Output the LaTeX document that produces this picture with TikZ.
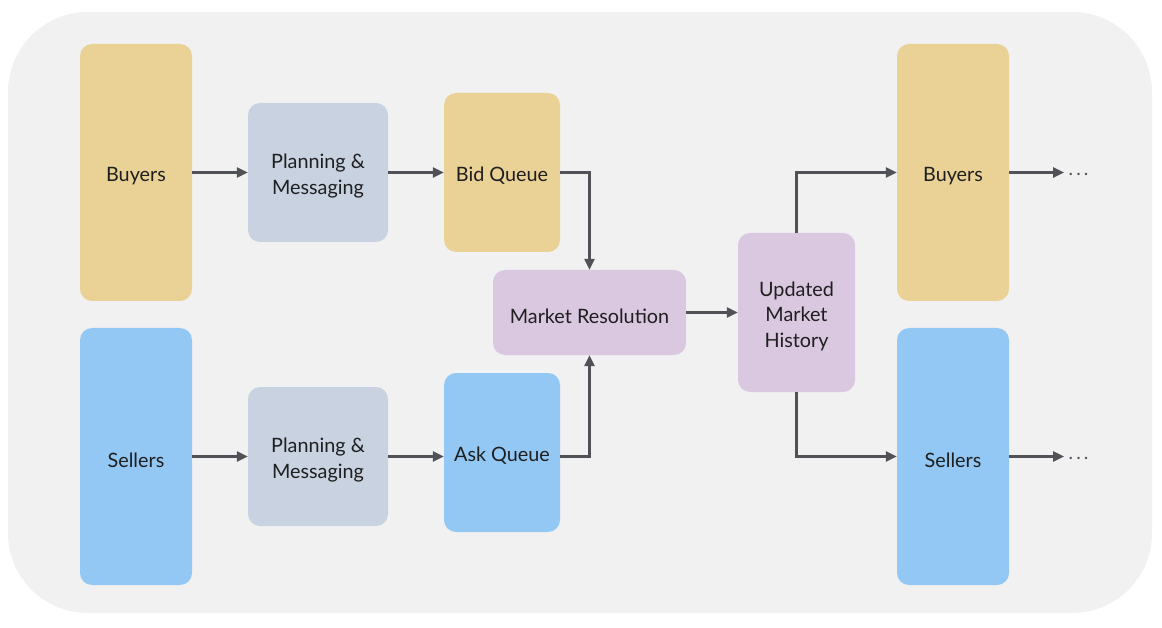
\documentclass[tikz,border=0pt]{standalone}
\usepackage{fontspec}
\setmainfont{Lato}
\usetikzlibrary{arrows.meta}
\definecolor{bgc}{HTML}{F1F1F1}
\definecolor{yel}{HTML}{EAD296}
\definecolor{blu}{HTML}{93C8F4}
\definecolor{gry}{HTML}{C8D2E0}
\definecolor{pur}{HTML}{D9C8E0}
\definecolor{arr}{HTML}{505257}
\tikzset{
  tstyle/.style={inner sep=0pt, align=center, font=\fontsize{19.8}{25.5}\selectfont, text=black!88, yshift=-3.5pt},
  box/.style={rounded corners=12pt, inner sep=0pt, label={[tstyle]center:#1}},
  conn/.style={draw=arr, line width=2.4pt, -{Triangle[length=11pt,width=10pt]}},
}
\begin{document}
\begin{tikzpicture}[x=1pt,y=-1pt]
\useasboundingbox (0,0) rectangle (1162,628);
\fill[bgc, rounded corners=80pt] (8,12) rectangle (1152,613);
% nodes
\node[box=Buyers, fill=yel, minimum width=112pt, minimum height=257pt] (b1) at (136,172.5) {};
\node[box=Sellers, fill=blu, minimum width=112pt, minimum height=257pt] (s1) at (136,456.5) {};
\node[box={Planning \&\\Messaging}, fill=gry, minimum width=140pt, minimum height=139pt] (p1) at (318,172.5) {};
\node[box={Planning \&\\Messaging}, fill=gry, minimum width=140pt, minimum height=139pt] (p2) at (318,456.5) {};
\node[box={Bid Queue}, fill=yel, minimum width=116pt, minimum height=159pt] (bq) at (502,172.5) {};
\node[box={Ask Queue}, fill=blu, minimum width=116pt, minimum height=159pt] (aq) at (502,452.5) {};
\node[box={Market Resolution}, fill=pur, minimum width=193pt, minimum height=85pt] (mr) at (589.5,312.5) {};
\node[box={Updated\\Market\\History}, fill=pur, minimum width=117pt, minimum height=159pt] (uh) at (796.5,312.5) {};
\node[box=Buyers, fill=yel, minimum width=112pt, minimum height=257pt] (b2) at (953,172.5) {};
\node[box=Sellers, fill=blu, minimum width=112pt, minimum height=257pt] (s2) at (953,456.5) {};
\node[font=\fontsize{19}{20}\selectfont, text=arr, inner sep=0pt] (d1) at (1078.5,174) {.\,.\,.};
\node[font=\fontsize{19}{20}\selectfont, text=arr, inner sep=0pt] (d2) at (1078.5,458) {.\,.\,.};
\coordinate (e1) at (1064,172.5);
\coordinate (e2) at (1064,456.5);
% connectors
\draw[conn] (b1.east) -- (p1.west);
\draw[conn] (s1.east) -- (p2.west);
\draw[conn] (p1.east) -- (bq.west);
\draw[conn] (p2.east) -- (aq.west |- p2.east);
\draw[conn] (bq.east) -- (bq.east -| mr.north) -- (mr.north);
\draw[conn] (aq.east |- p2.east) -- (p2.east -| mr.south) -- (mr.south);
\draw[conn] (mr.east) -- (uh.west);
\draw[conn] (uh.north) -- (uh.north |- b2.west) -- (b2.west);
\draw[conn] (uh.south) -- (uh.south |- s2.west) -- (s2.west);
\draw[conn] (b2.east) -- (e1);
\draw[conn] (s2.east) -- (e2);
\end{tikzpicture}
\end{document}
